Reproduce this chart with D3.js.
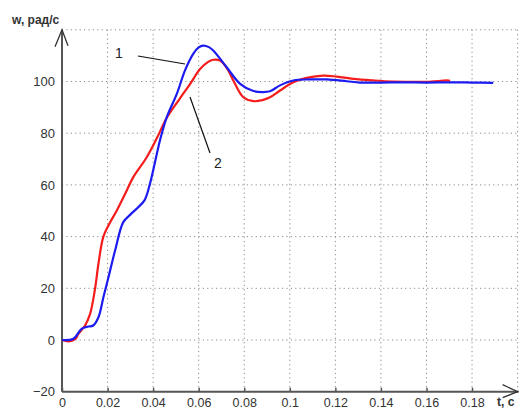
<!DOCTYPE html>
<html>
<head>
<meta charset="utf-8">
<script src="https://cdn.jsdelivr.net/npm/d3@7"></script>
<style>
  body { margin: 0; background: #fff; }
  svg { display: block; font-family: "Liberation Sans", Arial, sans-serif; }
</style>
</head>
<body>
<div id="chart"></div>
<script>
// curve 1 (blue)
var t1 = [0, 0.005, 0.0086, 0.0115, 0.0137, 0.016, 0.0182, 0.0204, 0.0233, 0.0269, 0.030, 0.033, 0.0362, 0.0386, 0.043, 0.046, 0.0504, 0.054, 0.0576, 0.060, 0.062, 0.0645, 0.0664, 0.0723, 0.0782, 0.0840, 0.0880, 0.0913, 0.0957, 0.1015, 0.1089, 0.1162, 0.125, 0.1308, 0.14, 0.15, 0.16, 0.17, 0.18, 0.1893];
var w1 = [0, 0.5, 4.3, 5.2, 5.6, 8.8, 16.6, 24.3, 34.6, 45.6, 48.5, 51, 54, 60.4, 77.2, 86.2, 95.2, 104.3, 110.7, 113.2, 113.9, 113.3, 112, 105.5, 99.1, 96.3, 95.9, 96.2, 98.5, 100.4, 100.8, 100.8, 100.1, 99.6, 99.6, 99.7, 99.6, 99.7, 99.6, 99.5];
// curve 2 (red)
var t2 = [0, 0.003, 0.006, 0.0072, 0.0101, 0.0123, 0.0145, 0.016, 0.0181, 0.0205, 0.024, 0.0277, 0.0313, 0.0372, 0.0416, 0.046, 0.0518, 0.0562, 0.0606, 0.064, 0.0664, 0.0694, 0.0725, 0.0752, 0.0796, 0.084, 0.088, 0.0913, 0.0957, 0.1015, 0.1074, 0.1147, 0.1206, 0.1279, 0.1367, 0.1454, 0.16, 0.1689, 0.1704];
var w2 = [0, -0.5, 0.5, 2.4, 5.6, 10, 19.8, 29.5, 39.8, 44.5, 50, 56.5, 63, 70.7, 78, 86, 93.5, 99, 104.8, 107.5, 108.4, 108.1, 105, 100.4, 93.9, 92.4, 92.8, 93.9, 96.5, 99.7, 101.4, 102.3, 101.9, 101, 100.4, 100, 99.9, 100.4, 100.3];

var xTicks = [0, 0.02, 0.04, 0.06, 0.08, 0.1, 0.12, 0.14, 0.16, 0.18];
var xTickLabels = ["0", "0.02", "0.04", "0.06", "0.08", "0.1", "0.12", "0.14", "0.16", "0.18"];
var yTicks = [-20, 0, 20, 40, 60, 80, 100];
var xGrid = [0.02, 0.04, 0.06, 0.08, 0.1, 0.12, 0.14, 0.16, 0.18, 0.2];
var yGrid = [0, 20, 40, 60, 80, 100, 120];

var width = 520, height = 410;
var svg = d3.select("#chart").append("svg")
  .attr("width", width).attr("height", height);

var x = d3.scaleLinear().domain([0, 0.2]).range([62, 517.6]);
var y = d3.scaleLinear().domain([-20, 120]).range([391.7, 29.8]);

// grid
var grid = svg.append("g").attr("stroke", "#8a8a8a").attr("stroke-width", 1)
  .attr("stroke-dasharray", "1.2,3.2");
grid.selectAll(".gx").data(xGrid).enter().append("line")
  .attr("x1", function(d){ return x(d); }).attr("x2", function(d){ return x(d); })
  .attr("y1", y(-20)).attr("y2", y(120));
grid.selectAll(".gy").data(yGrid).enter().append("line")
  .attr("x1", x(0)).attr("x2", x(0.2))
  .attr("y1", function(d){ return y(d); }).attr("y2", function(d){ return y(d); });

// axes
var axisColor = "#555";
var xAxis = svg.append("g").attr("transform", "translate(0," + y(-20) + ")")
  .call(d3.axisBottom(x).tickValues(xTicks).tickSize(-4).tickPadding(6)
    .tickFormat(function(d, i){ return xTickLabels[i]; }));
var yAxis = svg.append("g").attr("transform", "translate(" + x(0) + ",0)")
  .call(d3.axisLeft(y).tickValues(yTicks).tickSize(0).tickPadding(7));
[xAxis, yAxis].forEach(function(a){
  a.select(".domain").remove();
  a.selectAll("line").attr("stroke", axisColor).attr("stroke-width", 1.5);
  a.selectAll("text").attr("fill", "#333").style("font-size", "13px");
});
xAxis.selectAll("text").style("font-size", "12.5px");

svg.append("line").attr("x1", x(0)).attr("x2", x(0.2) + 1)
  .attr("y1", y(-20)).attr("y2", y(-20)).attr("stroke", axisColor).attr("stroke-width", 2);
svg.append("line").attr("x1", x(0)).attr("x2", x(0))
  .attr("y1", y(-20)).attr("y2", y(120)).attr("stroke", axisColor).attr("stroke-width", 2);
// arrows
svg.append("path").attr("fill", "none").attr("stroke", "#333").attr("stroke-width", 1.3)
  .attr("d", "M" + (x(0) - 7) + "," + (y(120) + 17) + "L" + x(0) + "," + y(120) + "L" + (x(0) + 6) + "," + (y(120) + 16));
svg.append("path").attr("fill", "none").attr("stroke", "#333").attr("stroke-width", 1.3)
  .attr("d", "M" + (x(0.2) - 15) + "," + (y(-20) - 7) + "L" + x(0.2) + "," + y(-20) + "L" + (x(0.2) - 15) + "," + (y(-20) + 6));

svg.append("text").attr("x", 12).attr("y", 24).attr("fill", "#333")
  .style("font-size", "12px").style("font-weight", "bold").text("w, рад/с");
svg.append("text").attr("x", 497).attr("y", 406).attr("fill", "#333")
  .style("font-size", "12px").style("font-weight", "bold").text("t, c");

// curves
var line = d3.line()
  .x(function(d){ return x(d[0]); })
  .y(function(d){ return y(d[1]); })
  .curve(d3.curveCatmullRom);
svg.append("path").datum(d3.zip(t2, w2))
  .attr("fill", "none").attr("stroke", "#f51c1c").attr("stroke-width", 2.2).attr("d", line);
svg.append("path").datum(d3.zip(t1, w1))
  .attr("fill", "none").attr("stroke", "#1c1cf0").attr("stroke-width", 2.2).attr("d", line);

// curve labels with leaders
svg.append("line").attr("x1", 138).attr("y1", 56).attr("x2", 185).attr("y2", 64)
  .attr("stroke", "#111").attr("stroke-width", 1.2);
svg.append("line").attr("x1", 190).attr("y1", 97).attr("x2", 210).attr("y2", 153)
  .attr("stroke", "#111").attr("stroke-width", 1.2);
svg.append("text").attr("x", 115).attr("y", 58).style("font-size", "14px").attr("fill", "#222").text("1");
svg.append("text").attr("x", 214).attr("y", 168).style("font-size", "14px").attr("fill", "#222").text("2");
</script>
</body>
</html>
